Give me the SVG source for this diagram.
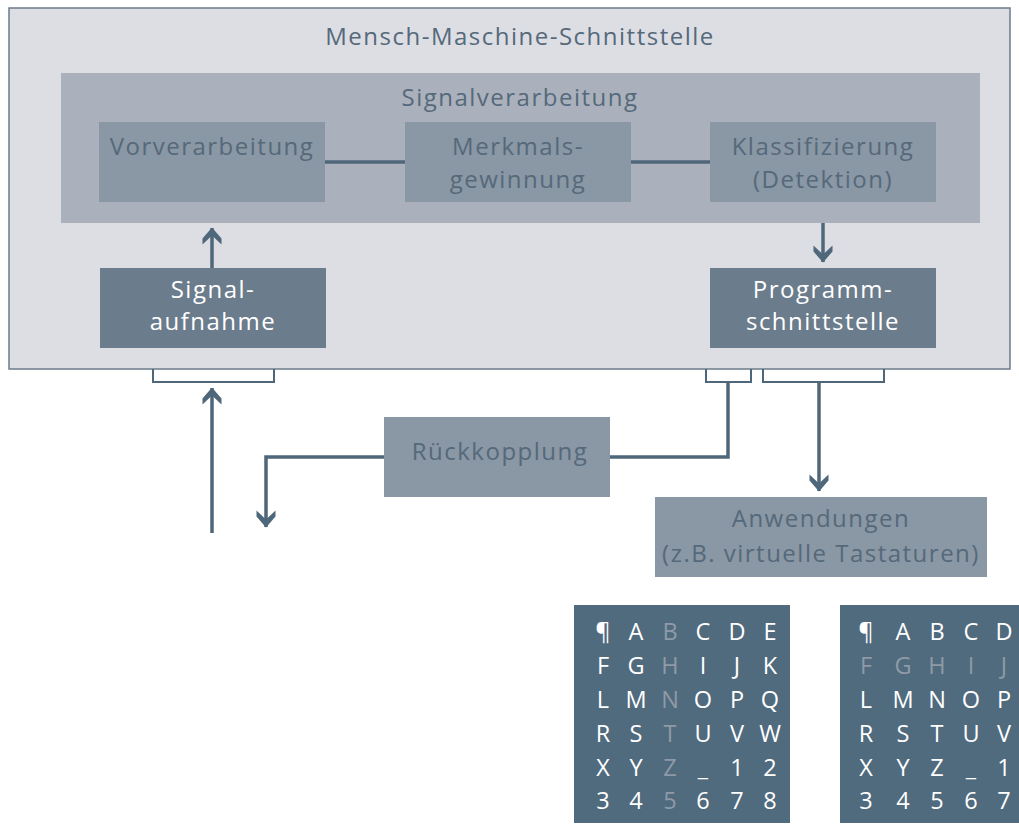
<svg xmlns="http://www.w3.org/2000/svg" width="1019" height="825" viewBox="0 0 1019 825">
<defs>
<style>
text{font-family:"Open Sans","Noto Sans","Liberation Sans",sans-serif;text-anchor:middle}
.t{font-size:24px;fill:#55697b;letter-spacing:1.5px}
.w{font-size:24px;fill:#ffffff;letter-spacing:1.5px}
.lt{fill:#8a97a4}
.dk{fill:#6b7c8c}
.ln{stroke:#4f677a;stroke-width:3.5;fill:none}
.br{stroke:#4f677a;stroke-width:2;fill:none}
.g{font-size:23.5px;fill:#ffffff}
.g .d{fill:#8e9aa6}
</style>
<marker id="ad" viewBox="0 0 20 18" refX="10" refY="17.5" markerWidth="20" markerHeight="18" markerUnits="userSpaceOnUse" orient="0">
<polygon points="10,18 19.5,7 19.5,1 10,10 0.5,1 0.5,7" fill="#4f677a"/>
</marker>
<marker id="au" viewBox="0 0 20 18" refX="10" refY="0.5" markerWidth="20" markerHeight="18" markerUnits="userSpaceOnUse" orient="0">
<polygon points="10,0 19.5,11 19.5,17 10,8 0.5,17 0.5,11" fill="#4f677a"/>
</marker>
</defs>
<g id="mms">
<rect x="9" y="8" width="1001" height="361" fill="#dcdee3" stroke="#6b7c8c" stroke-width="1.5"/>
<text class="t" x="520" y="45">Mensch-Maschine-Schnittstelle</text>
</g>
<g id="signalverarbeitung">
<rect x="61" y="73" width="919" height="150" fill="#aab1bc"/>
<text class="t" x="520" y="106">Signalverarbeitung</text>
</g>
<g id="vorverarbeitung">
<rect class="lt" x="99" y="122" width="226" height="80"/>
<text class="t" x="212" y="155">Vorverarbeitung</text>
</g>
<g id="merkmal">
<rect class="lt" x="405" y="122" width="226" height="80"/>
<text class="t" x="518" y="155">Merkmals-</text>
<text class="t" x="518" y="188">gewinnung</text>
</g>
<g id="klassifizierung">
<rect class="lt" x="710" y="122" width="226" height="80"/>
<text class="t" x="823" y="155">Klassifizierung</text>
<text class="t" x="823" y="188">(Detektion)</text>
</g>
<g id="signalaufnahme">
<rect class="dk" x="100" y="268" width="226" height="80"/>
<text class="w" x="213" y="298">Signal-</text>
<text class="w" x="213" y="330">aufnahme</text>
</g>
<g id="programmschnittstelle">
<rect class="dk" x="710" y="268" width="226" height="80"/>
<text class="w" x="823" y="298">Programm-</text>
<text class="w" x="823" y="330">schnittstelle</text>
</g>
<g id="rueckkopplung">
<rect class="lt" x="384" y="417" width="226" height="80"/>
<text class="t" x="500" y="460">Rückkopplung</text>
</g>
<g id="anwendungen">
<rect class="lt" x="655" y="497" width="332" height="80"/>
<text class="t" x="821" y="527">Anwendungen</text>
<text class="t" x="821" y="562">(z.B. virtuelle Tastaturen)</text>
</g>
<g id="connectors">
<line class="ln" x1="325" y1="162" x2="405" y2="162"/>
<line class="ln" x1="631" y1="162" x2="710" y2="162"/>
<line class="ln" x1="212" y1="268" x2="212" y2="228" marker-end="url(#au)"/>
<line class="ln" x1="823" y1="223" x2="823" y2="262" marker-end="url(#ad)"/>
<path class="br" d="M153,369 V382 H274 V369"/>
<line class="ln" x1="212" y1="533" x2="212" y2="388" marker-end="url(#au)"/>
<path class="br" d="M706,369 V382 H751 V369"/>
<path class="br" d="M763,369 V382 H884 V369"/>
<path class="ln" d="M728,382 V457 H610"/>
<path class="ln" d="M384,457 H266 V527" marker-end="url(#ad)"/>
<line class="ln" x1="819" y1="382" x2="819" y2="491" marker-end="url(#ad)"/>
</g>
<g id="grid1">
<rect x="574" y="605" width="216" height="218" fill="#506a7e"/>
<g class="g">
<text x="603" y="640">¶</text><text x="636" y="640">A</text><text x="670" y="640" class="d">B</text><text x="703" y="640">C</text><text x="737" y="640">D</text><text x="770" y="640">E</text>
<text x="603" y="674">F</text><text x="636" y="674">G</text><text x="670" y="674" class="d">H</text><text x="703" y="674">I</text><text x="737" y="674">J</text><text x="770" y="674">K</text>
<text x="603" y="708">L</text><text x="636" y="708">M</text><text x="670" y="708" class="d">N</text><text x="703" y="708">O</text><text x="737" y="708">P</text><text x="770" y="708">Q</text>
<text x="603" y="742">R</text><text x="636" y="742">S</text><text x="670" y="742" class="d">T</text><text x="703" y="742">U</text><text x="737" y="742">V</text><text x="770" y="742">W</text>
<text x="603" y="776">X</text><text x="636" y="776">Y</text><text x="670" y="776" class="d">Z</text><text x="703" y="776">_</text><text x="737" y="776">1</text><text x="770" y="776">2</text>
<text x="603" y="809">3</text><text x="636" y="809">4</text><text x="670" y="809" class="d">5</text><text x="703" y="809">6</text><text x="737" y="809">7</text><text x="770" y="809">8</text>
</g>
</g>
<g id="grid2">
<rect x="840" y="605" width="179" height="218" fill="#506a7e"/>
<g class="g">
<text x="866" y="640">¶</text><text x="903" y="640">A</text><text x="937" y="640">B</text><text x="971" y="640">C</text><text x="1004" y="640">D</text>
<text x="866" y="674" class="d">F</text><text x="903" y="674" class="d">G</text><text x="937" y="674" class="d">H</text><text x="971" y="674" class="d">I</text><text x="1004" y="674" class="d">J</text>
<text x="866" y="708">L</text><text x="903" y="708">M</text><text x="937" y="708">N</text><text x="971" y="708">O</text><text x="1004" y="708">P</text>
<text x="866" y="742">R</text><text x="903" y="742">S</text><text x="937" y="742">T</text><text x="971" y="742">U</text><text x="1004" y="742">V</text>
<text x="866" y="776">X</text><text x="903" y="776">Y</text><text x="937" y="776">Z</text><text x="971" y="776">_</text><text x="1004" y="776">1</text>
<text x="866" y="809">3</text><text x="903" y="809">4</text><text x="937" y="809">5</text><text x="971" y="809">6</text><text x="1004" y="809">7</text>
</g>
</g>
</svg>
